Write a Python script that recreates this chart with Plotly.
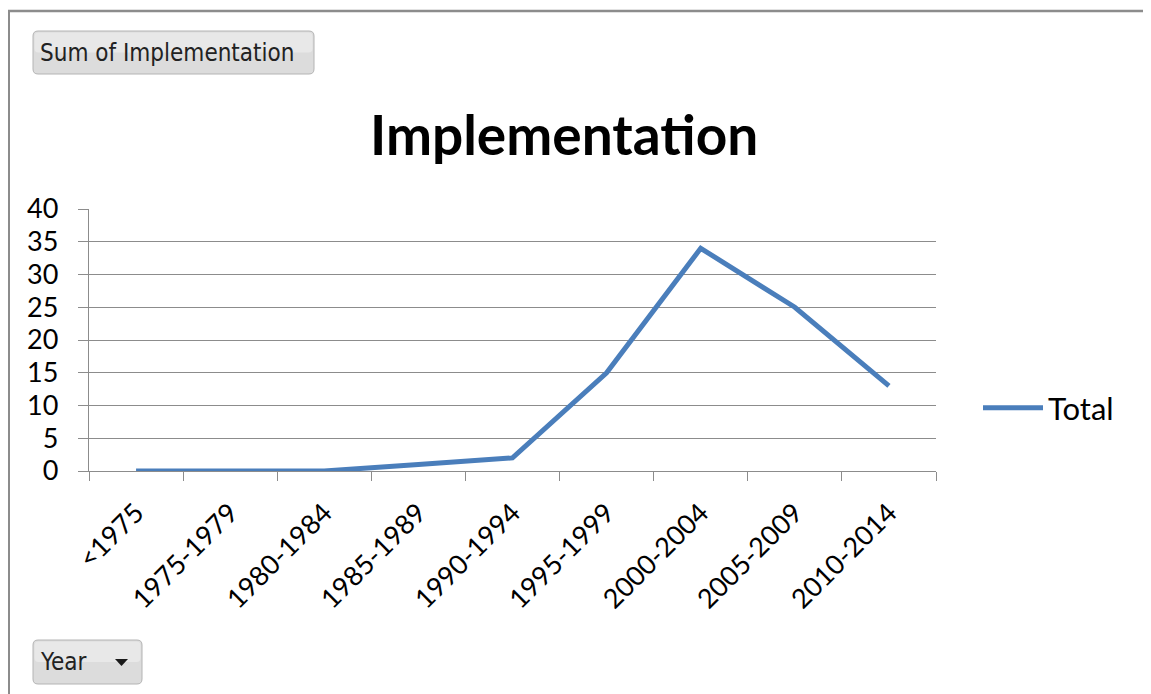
import plotly.graph_objects as go

categories = ["<1975", "1975-1979", "1980-1984", "1985-1989", "1990-1994",
              "1995-1999", "2000-2004", "2005-2009", "2010-2014"]
totals = [0, 0, 0, 1, 2, 15, 34, 25, 13]
series_name = "Total"
chart_title = "Implementation"
y_ticks = [0, 5, 10, 15, 20, 25, 30, 35, 40]

OFF = 8  # page body margin
W, H = 1151 - OFF, 694 - OFF
L, R, T, B = 89, 936, 209, 471  # plot area in screen pixels
PW, PH = R - L, B - T


def px(x):
    return (x - L) / PW


def py(y):
    return (B - y) / PH


def rrect(x0, y0, x1, y1, r):
    rx, ry = r / PW, r / PH
    X0, X1 = px(x0), px(x1)
    Y0, Y1 = py(y0), py(y1)
    return (f"M {X0+rx},{Y0} L {X1-rx},{Y0} Q {X1},{Y0} {X1},{Y0-ry} "
            f"L {X1},{Y1+ry} Q {X1},{Y1} {X1-rx},{Y1} L {X0+rx},{Y1} "
            f"Q {X0},{Y1} {X0},{Y1+ry} L {X0},{Y0-ry} Q {X0},{Y0} {X0+rx},{Y0} Z")


fig = go.Figure()
fig.add_trace(go.Scatter(
    x=categories, y=totals, mode="lines", name=series_name,
    line=dict(color="#4a7ebb", width=5),
))

font_main = "Lato, Calibri, Carlito, sans-serif"
font_btn = "DejaVu Sans Condensed, Tahoma, Noto Sans, sans-serif"

shapes = []
shapes.append(dict(type="line", xref="paper", yref="paper",
                   x0=px(8), x1=px(1160), y0=py(11), y1=py(11),
                   line=dict(color="#8c8c8c", width=2.5), layer="above"))
shapes.append(dict(type="line", xref="paper", yref="paper",
                   x0=px(9), x1=px(9), y0=py(10), y1=py(700),
                   line=dict(color="#8c8c8c", width=2), layer="above"))
for (x0, y0, x1, y1) in [(33, 31, 314, 74), (33, 640, 142, 684)]:
    shapes.append(dict(type="path", xref="paper", yref="paper",
                       path=rrect(x0, y0, x1, y1, 5),
                       fillcolor="#dcdcdc", line=dict(color="#b4b4b4", width=1),
                       layer="above"))
    shapes.append(dict(type="path", xref="paper", yref="paper",
                       path=rrect(x0 + 1.5, y0 + 1.5, x1 - 1.5, (y0 + y1) / 2, 4),
                       fillcolor="#e8e8e8", line=dict(width=0),
                       layer="above"))
shapes.append(dict(type="path", xref="paper", yref="paper",
                   path=f"M {px(115)},{py(659)} L {px(128)},{py(659)} L {px(121.5)},{py(666)} Z",
                   fillcolor="#1a1a1a", line=dict(width=0), layer="above"))

annotations = [
    dict(text=chart_title, xref="paper", yref="paper", x=px(564), y=py(134),
         xanchor="center", yanchor="middle", showarrow=False,
         font=dict(family=font_main, size=55, color="#000000", weight="bold")),
    dict(text="Sum of Implementation", xref="paper", yref="paper",
         x=px(38), y=py(53), xanchor="left", yanchor="middle", showarrow=False,
         font=dict(family=font_btn, size=24, color="#222222")),
    dict(text="Year", xref="paper", yref="paper",
         x=px(38), y=py(662), xanchor="left", yanchor="middle", showarrow=False,
         font=dict(family=font_btn, size=24, color="#222222")),
]

fig.update_layout(
    width=W, height=H,
    margin=dict(l=L - OFF, r=W - (R - OFF), t=T - OFF, b=H - (B - OFF), pad=0),
    paper_bgcolor="white", plot_bgcolor="white",
    font=dict(family=font_main, size=26, color="#000000"),
    showlegend=True,
    legend=dict(x=px(978), y=py(408), xanchor="left", yanchor="middle",
                font=dict(family=font_main, size=31, color="#000000"),
                bgcolor="rgba(0,0,0,0)", itemwidth=60),
    shapes=shapes, annotations=annotations,
)
fig.update_xaxes(
    type="category", tickson="boundaries", ticks="outside", ticklen=9,
    tickcolor="#8c8c8c", tickwidth=1.3, showgrid=False,
    showline=True, linecolor="#8c8c8c", linewidth=1.3,
    tickangle=-45, tickfont=dict(family=font_main, size=27, color="#000000"),
    range=[-0.5, len(categories) - 0.5], ticklabelstandoff=14,
)
fig.update_yaxes(
    range=[0, 40], tickvals=y_ticks, ticks="outside", ticklen=10,
    tickcolor="#8c8c8c", tickwidth=1.3,
    showgrid=True, gridcolor="#8c8c8c", gridwidth=1.3,
    showline=True, linecolor="#8c8c8c", linewidth=1.3,
    zeroline=False,
    tickfont=dict(family=font_main, size=27, color="#000000"),
    ticklabelstandoff=14,
)

fig.write_html("out.html")
